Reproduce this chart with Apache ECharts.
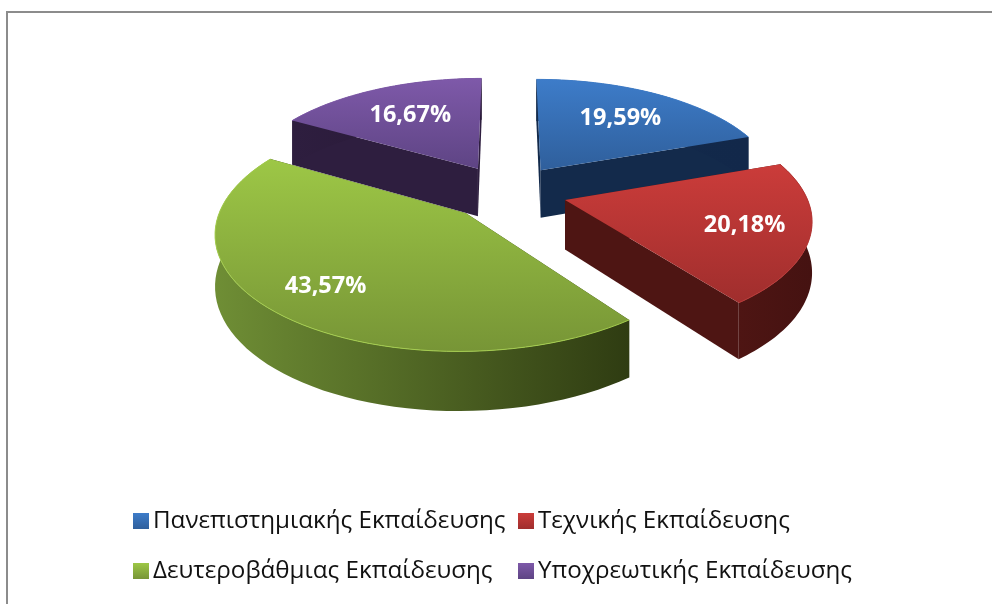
<!DOCTYPE html>
<html><head><meta charset="utf-8">
<style>html,body{margin:0;padding:0;background:#fff}#c{width:992px;height:604px}</style>
<script src="https://cdn.jsdelivr.net/npm/echarts@6/dist/echarts.min.js"></script>
</head><body><div id="c"></div>
<script>
const categories = ['Πανεπιστημιακής Εκπαίδευσης','Τεχνικής Εκπαίδευσης','Δευτεροβάθμιας Εκπαίδευσης','Υποχρεωτικής Εκπαίδευσης'];
const values = [19.59, 20.18, 43.57, 16.67];
const topColors = [['#3d7cc9','#2f5f9c'],['#cb3c3a','#a02e2d'],['#9dc746','#779536'],['#7e59a9','#5e4484']];
const wallColors = [['#132a4b','#12284a'],['#4e1513','#451211'],['#6f8e35','#2f3c12'],['#2e1e3f','#271835']];
const rimColors = ['#3d7cc9','#b83634','#a4cd4e','#7e59a9'];
const labelFrac = [0.66, 0.74, 0.76, 0.65];
const G = {cx:507, cy:192, R:240, a:0.15, k:110.4, d:60, h:49};
const total = values.reduce((s,v)=>s+v,0);

function project(X,Y){
  const p = 1/(1 - G.a*Y/G.R);
  return {x:G.cx + X*p, y:G.cy + G.k*(Y/G.R)*p, p};
}
function sliceAngles(i){
  let s = 0; for(let j=0;j<i;j++) s += values[j];
  return [s/total*Math.PI*2, (s+values[i])/total*Math.PI*2];
}
function renderSlice(i){
  return function(){
    const [a0,a1] = sliceAngles(i), mid=(a0+a1)/2;
    const ox = G.d*Math.sin(mid), oy = -G.d*Math.cos(mid);
    const n = 60, arcTop=[], arcBot=[];
    for(let t=0;t<=n;t++){
      const ang = a0+(a1-a0)*t/n;
      const q = project(ox+G.R*Math.sin(ang), oy-G.R*Math.cos(ang));
      arcTop.push([q.x,q.y]); arcBot.push([q.x,q.y+G.h*q.p]);
    }
    const ap = project(ox,oy), apexT=[ap.x,ap.y], apexB=[ap.x,ap.y+G.h*ap.p];
    const grad=(c,x2,y2)=>new echarts.graphic.LinearGradient(0,0,x2,y2,[{offset:0,color:c[0]},{offset:1,color:c[1]}]);
    const wall=grad(wallColors[i],1,0);
    const flat=wallColors[i][i===2?1:0];
    const poly=(pts,fill)=>({type:'polygon',shape:{points:pts},style:{fill:fill,stroke:null}});
    const lab = G.R*labelFrac[i], lq = project(ox+lab*Math.sin(mid), oy-lab*Math.cos(mid));
    const children=[
      poly([apexT,arcTop[0],arcBot[0],apexB],flat),
      poly([apexT,arcTop[n],arcBot[n],apexB],flat),
      poly(arcTop.concat(arcBot.slice().reverse()),wall),
      poly([apexT].concat(arcTop),grad(topColors[i],0,1)),
      {type:'polyline',shape:{points:arcTop},style:{fill:null,stroke:rimColors[i],lineWidth:1}},
      {type:'text',style:{text:values[i].toFixed(2).replace('.',',')+'%',x:lq.x,y:lq.y,align:'center',verticalAlign:'middle',
        fill:'#fff',font:'bold 23.5px "Open Sans", sans-serif'}}
    ];
    return {type:'group',children};
  };
}
const drawOrder=[0,3,2,1];
const iconColor=i=>new echarts.graphic.LinearGradient(0,0,0,1,[{offset:0,color:topColors[i][0]},{offset:1,color:topColors[i][1]}]);
const legendCommon={orient:'vertical',itemWidth:16,itemHeight:16,itemGap:26,icon:'rect',padding:0,
  textStyle:{fontFamily:'"Open Sans", sans-serif',fontSize:24.2,color:'#111',padding:[0,0,0,-1]}};
const chart=echarts.init(document.getElementById('c'),null,{renderer:'canvas'});
chart.setOption({
  animation:false,
  backgroundColor:'#fff',
  legend:[
    Object.assign({},legendCommon,{left:133,top:509,data:[0,2].map(i=>({name:categories[i],itemStyle:{color:iconColor(i)}}))}),
    Object.assign({},legendCommon,{left:518,top:509,data:[1,3].map(i=>({name:categories[i],itemStyle:{color:iconColor(i)}}))})
  ],
  graphic:[{type:'polyline',shape:{points:[[7,604],[7,12],[992,12]]},style:{stroke:'#8c8c8c',lineWidth:2,fill:null},silent:true}],
  series:drawOrder.map(i=>({type:'custom',name:categories[i],coordinateSystem:'none',silent:true,
    itemStyle:{color:topColors[i][0]},data:[values[i]],renderItem:renderSlice(i)}))
});
</script></body></html>
